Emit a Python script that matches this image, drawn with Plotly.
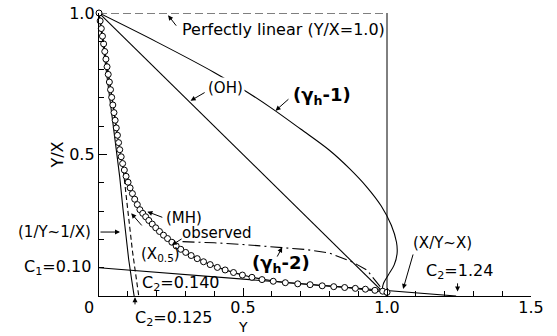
import plotly.graph_objects as go

# ---------------- data (Y, Y/X) ----------------
obs_y = [0.000, 0.004, 0.008, 0.012, 0.016, 0.020, 0.024, 0.028, 0.032, 0.036, 0.040, 0.044,
         0.048, 0.052, 0.056, 0.060, 0.064, 0.068, 0.072, 0.077, 0.082, 0.088, 0.094, 0.101,
         0.108, 0.116, 0.124, 0.133, 0.142, 0.152, 0.162, 0.173, 0.185, 0.197, 0.210, 0.224,
         0.238, 0.253, 0.268, 0.284, 0.301, 0.320, 0.341, 0.363, 0.386, 0.411, 0.438, 0.467,
         0.498, 0.531, 0.566, 0.605, 0.647, 0.690, 0.733, 0.775, 0.815, 0.853, 0.890, 0.925,
         0.958, 0.985, 1.000]
obs_yx = [1.000, 0.972, 0.945, 0.918, 0.891, 0.864, 0.837, 0.810, 0.783, 0.756, 0.729, 0.702,
          0.675, 0.648, 0.621, 0.594, 0.568, 0.542, 0.517, 0.492, 0.468, 0.445, 0.423, 0.402,
          0.382, 0.362, 0.342, 0.323, 0.305, 0.292, 0.280, 0.267, 0.254, 0.241, 0.228, 0.215,
          0.203, 0.190, 0.177, 0.165, 0.154, 0.143, 0.132, 0.121, 0.111, 0.101, 0.092, 0.083,
          0.074, 0.066, 0.058, 0.052, 0.047, 0.043, 0.040, 0.036, 0.033, 0.030, 0.027, 0.024,
          0.020, 0.017, 0.013]

mh_y = [0.0, 0.03, 0.06, 0.08, 0.10, 0.13, 0.17, 0.22, 0.28, 0.35, 0.43, 0.52, 0.62, 0.75, 0.88, 1.0]
mh_yx = [1.0, 0.80, 0.595, 0.47, 0.40, 0.325, 0.270, 0.214, 0.170, 0.128, 0.095, 0.069, 0.051, 0.039, 0.028, 0.013]

x05_y = [0.0, 0.025, 0.05, 0.07, 0.085, 0.097, 0.106, 0.116, 0.127, 0.138]
x05_yx = [1.0, 0.84, 0.68, 0.55, 0.44, 0.33, 0.24, 0.16, 0.08, 0.0]

inv_y = [0.0, 0.02, 0.04, 0.058, 0.072, 0.083, 0.093, 0.103, 0.113, 0.122]
inv_yx = [1.0, 0.84, 0.68, 0.54, 0.42, 0.31, 0.21, 0.13, 0.06, 0.0]

oh_y = [0.0, 1.0]
oh_yx = [1.0, 0.0]

gh1_y = [0.0, 0.2, 0.4, 0.5, 0.6, 0.7, 0.8, 0.87, 0.93, 0.98, 1.015, 1.033, 1.035,
         1.025, 1.005, 0.988, 0.985, 1.0]
gh1_yx = [1.0, 0.898, 0.79, 0.73, 0.663, 0.59, 0.515, 0.45, 0.385, 0.318, 0.25, 0.19, 0.15,
          0.11, 0.075, 0.045, 0.025, 0.013]

gh2_y = [0.29, 0.33, 0.40, 0.50, 0.628, 0.72, 0.80, 0.88, 0.93, 0.975, 1.0]
gh2_yx = [0.192, 0.191, 0.188, 0.182, 0.173, 0.164, 0.152, 0.120, 0.092, 0.035, 0.008]

xy_y = [0.0, 1.24]
xy_yx = [0.10, 0.0]

lin_y = [0.0, 1.0]
lin_yx = [1.0, 1.0]
edge_y = [1.0, 1.0]
edge_yx = [0.0, 1.0]

x_ticks = [0.5, 1.0, 1.5]
x_ticktext = ["0.5", "1.0", "1.5"]
y_ticks = [0.5, 1.0]
y_ticktext = ["0.5", "1.0"]
x_minor = [0.1, 0.2, 0.3, 0.4, 0.6, 0.7, 0.8, 0.9, 1.1, 1.2, 1.3, 1.4]
y_minor = [0.1, 0.2, 0.3, 0.4, 0.6, 0.7, 0.8, 0.9]

X_RANGE = [0, 1.5]
Y_RANGE = [0, 1.0]

FONT = "DejaVu Sans, Liberation Sans, Arial, sans-serif"
K = "black"
W, H = 557, 336
ML, MT = 99, 13
MR, MB = 557 - 531, 336 - 296
PW, PH = W - ML - MR, H - MT - MB

def to_paper(x, y):
    return ((x - X_RANGE[0]) / (X_RANGE[1] - X_RANGE[0]),
            (y - Y_RANGE[0]) / (Y_RANGE[1] - Y_RANGE[0]))

fig = go.Figure()

def line(x, y, dash="solid", w=1.1, shape="linear"):
    fig.add_trace(go.Scatter(x=x, y=y, mode="lines", line=dict(color=K, width=w, dash=dash, shape=shape),
                             showlegend=False, hoverinfo="skip", cliponaxis=False))

line(lin_y, lin_yx, dash="8px,4px")
line(edge_y, edge_yx, w=1.0)
line(oh_y, oh_yx)
line(gh1_y, gh1_yx, shape="spline")
line(xy_y, xy_yx)
line(inv_y, inv_yx)
line(x05_y, x05_yx, dash="5px,3px")
line(gh2_y, gh2_yx, dash="12px,4px,2px,4px")
line(mh_y, mh_yx, shape="spline")
fig.add_trace(go.Scatter(x=obs_y, y=obs_yx, mode="markers",
                         marker=dict(symbol="circle", size=6, color="white", line=dict(color=K, width=1)),
                         showlegend=False, hoverinfo="skip", cliponaxis=False))

ann = []

def label(x, y, text, size=15, xanchor="center", bg=None):
    px, py = to_paper(x, y)
    d = dict(x=px, y=py, xref="paper", yref="paper", text=text, showarrow=False,
             xanchor=xanchor, yanchor="middle", font=dict(family=FONT, size=size, color=K))
    if bg:
        d["bgcolor"] = bg
    ann.append(d)

def arrow(x, y, tx, ty):
    px, py = to_paper(x, y)
    qx, qy = to_paper(tx, ty)
    ann.append(dict(x=px, y=py, xref="paper", yref="paper",
                    ax=(qx - px) * PW, ay=-(qy - py) * PH, axref="pixel", ayref="pixel",
                    text="", showarrow=True, arrowhead=2, arrowsize=1, arrowwidth=1,
                    arrowcolor=K, standoff=0, startstandoff=0))

label(0.281, 0.94, "Perfectly linear (Y/X=1.0)", xanchor="left", size=16)
arrow(0.240, 0.992, 0.272, 0.950)
label(0.4375, 0.735, "(OH)", bg="white")
arrow(0.318, 0.69, 0.372, 0.722)
label(0.775, 0.707, "<b>(γ<sub>h</sub>-1)</b>", size=18)
arrow(0.613, 0.655, 0.663, 0.700)
label(0.295, 0.276, "(MH)")
arrow(0.168, 0.298, 0.225, 0.276)
label(0.41, 0.223, "observed")
arrow(0.253, 0.18, 0.292, 0.205)
label(-0.02, 0.226, "(1/Y~1/X)", xanchor="right")
arrow(0.073, 0.226, 0.0, 0.226)
label(0.215, 0.145, "(X<sub>0.5</sub>)")
arrow(0.112, 0.292, 0.153, 0.244)
label(-0.02, 0.102, "C<sub>1</sub>=0.10", xanchor="right", size=16)
label(0.142, 0.044, "C<sub>2</sub>=0.140", xanchor="left", size=16)
label(0.117, -0.078, "C<sub>2</sub>=0.125", xanchor="left", size=16)
arrow(0.125, -0.004, 0.125, -0.035)
label(0.632, 0.112, "<b>(γ<sub>h</sub>-2)</b>", size=18)
arrow(0.636, 0.172, 0.616, 0.134)
label(1.194, 0.187, "(X/Y~X)")
arrow(1.056, 0.025, 1.092, 0.152)
label(1.25, 0.085, "C<sub>2</sub>=1.24", size=16)
arrow(1.245, 0.016, 1.245, 0.050)
label(-0.035, -0.04, "0", size=16)
label(0.5, -0.11, "Y", size=14)   # x-axis title

fig.update_layout(
    width=W, height=H,
    margin=dict(l=ML, r=MR, t=MT, b=MB, autoexpand=False),
    paper_bgcolor="white", plot_bgcolor="white",
    font=dict(family=FONT, size=15, color=K),
    annotations=ann,
    showlegend=False,
)
fig.update_xaxes(range=X_RANGE, showgrid=False, zeroline=False, showline=True, linecolor=K, linewidth=1.3,
                 automargin=False, ticklabeloverflow="allow", ticklabelstandoff=-3,
                 ticks="inside", ticklen=8, tickwidth=1, tickcolor=K,
                 tickmode="array", tickvals=x_ticks, ticktext=x_ticktext,
                 tickfont=dict(size=16, family=FONT),
                 minor=dict(tickmode="array", tickvals=x_minor, ticks="inside", ticklen=5, tickcolor=K))
fig.update_yaxes(range=Y_RANGE, showgrid=False, zeroline=False, showline=True, linecolor=K, linewidth=1.3,
                 automargin=False, ticklabeloverflow="allow",
                 ticks="inside", ticklen=8, tickwidth=1, tickcolor=K,
                 tickmode="array", tickvals=y_ticks, ticktext=y_ticktext,
                 tickfont=dict(size=16, family=FONT),
                 minor=dict(tickmode="array", tickvals=y_minor, ticks="inside", ticklen=5, tickcolor=K),
                 title=dict(text="Y/X", font=dict(size=16, family=FONT), standoff=1))

# remove the default 8px page margin so the 557x336 figure fills the window exactly
fig.write_html("out.html", config={"displayModeBar": False},
               post_script="document.body.style.margin='0px';")
